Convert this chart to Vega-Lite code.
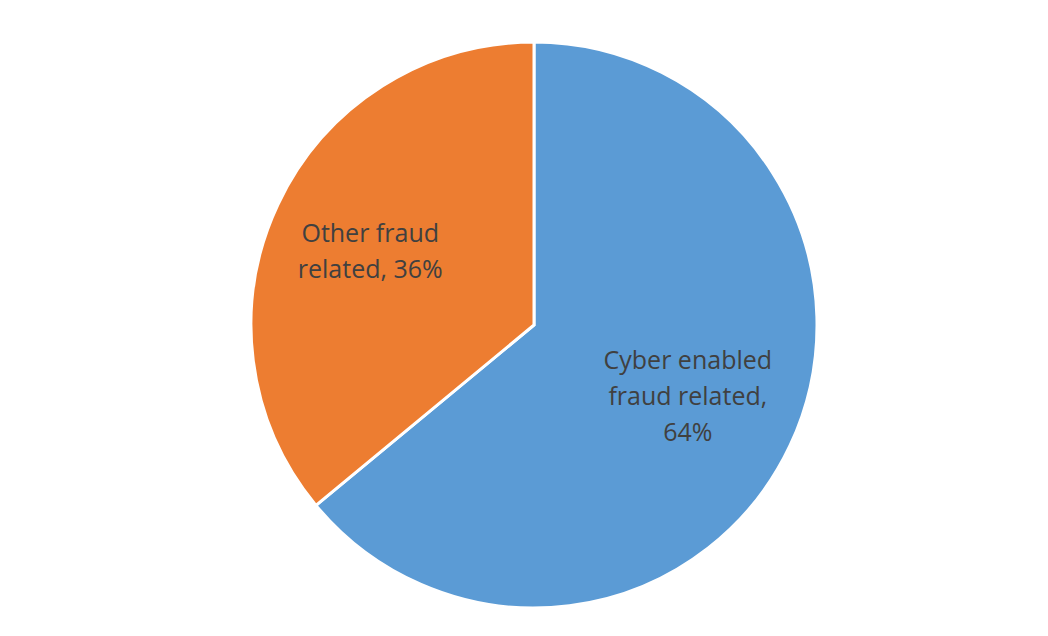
{
  "$schema": "https://vega.github.io/schema/vega-lite/v6.json",
  "autosize": "none",
  "width": 1050,
  "height": 630,
  "padding": {"left": 9, "top": 10, "right": -11, "bottom": -4},
  "background": "#ffffff",
  "config": {"view": {"stroke": null}},
  "data": {"values": [
    {"category": "Cyber enabled fraud related", "value": 64, "order": 1, "label": "Cyber enabled\nfraud related,\n64%"},
    {"category": "Other fraud related", "value": 36, "order": 2, "label": "Other fraud\nrelated, 36%"}
  ]},
  "encoding": {
    "theta": {"field": "value", "type": "quantitative", "stack": true},
    "order": {"field": "order", "type": "quantitative"},
    "color": {"field": "category", "type": "nominal", "legend": null,
      "scale": {"domain": ["Cyber enabled fraud related", "Other fraud related"], "range": ["#5b9bd5", "#ed7d31"]}}
  },
  "layer": [
    {"mark": {"type": "arc", "outerRadius": 283, "stroke": "#ffffff", "strokeWidth": 3}},
    {"mark": {"type": "text", "radius": 170, "dy": -36, "fontSize": 25, "font": "Open Sans", "lineBreak": "\n", "lineHeight": 36, "align": "center", "baseline": "middle"},
     "encoding": {"text": {"field": "label"}, "color": {"value": "#404040"},
       "opacity": {"condition": {"test": "datum.order == 1", "value": 1}, "value": 0}}},
    {"mark": {"type": "text", "radius": 181, "dy": -14, "fontSize": 25, "font": "Open Sans", "lineBreak": "\n", "lineHeight": 36, "align": "center", "baseline": "middle"},
     "encoding": {"text": {"field": "label"}, "color": {"value": "#404040"},
       "opacity": {"condition": {"test": "datum.order == 2", "value": 1}, "value": 0}}}
  ]
}
